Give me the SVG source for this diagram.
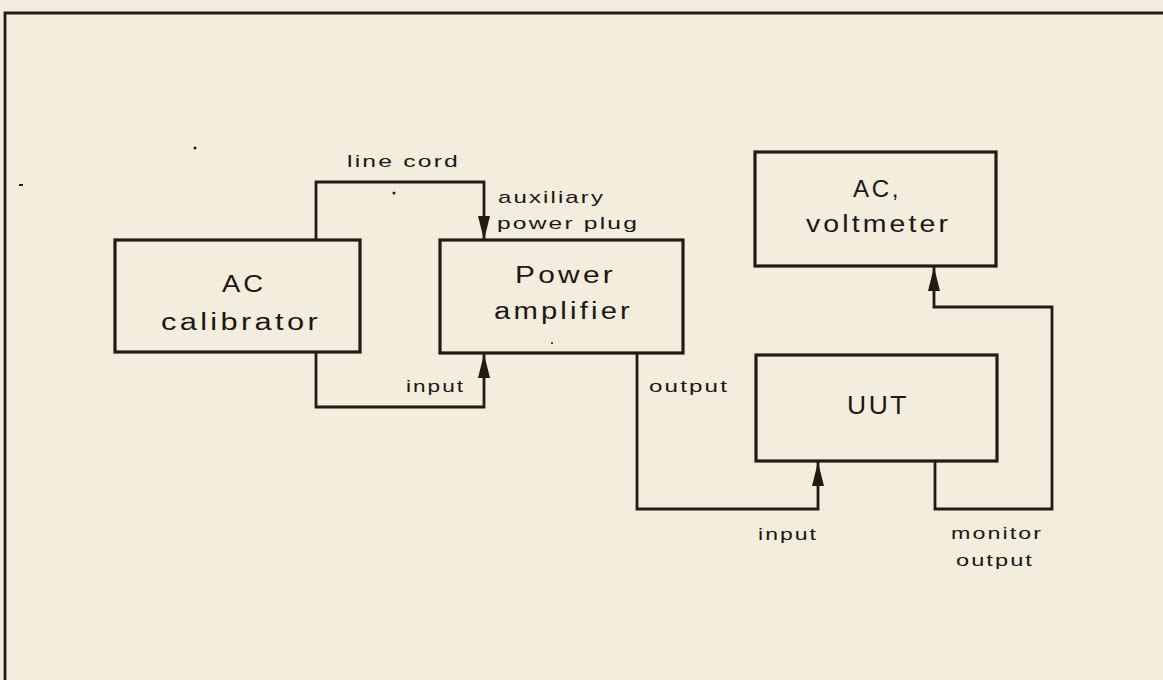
<svg xmlns="http://www.w3.org/2000/svg" width="1163" height="680" viewBox="0 0 1163 680">
<defs>
<marker id="arr" viewBox="0 0 24 12" refX="24" refY="6" markerWidth="24" markerHeight="12" markerUnits="userSpaceOnUse" orient="auto">
<path d="M0,0 L24,6 L0,12 z" fill="#231a15"/>
</marker>
<style>
.box{fill:none;stroke:#231a15;stroke-width:3.2}
.wire{fill:none;stroke:#231a15;stroke-width:2.8;stroke-linejoin:miter}
.big{font-family:"Liberation Sans",Arial,sans-serif;font-size:23px;letter-spacing:2.5px;fill:#1e1612}
.lbl{font-family:"Liberation Sans",Arial,sans-serif;font-size:17px;letter-spacing:1.5px;fill:#1e1612}
</style>
</defs>
<rect x="0" y="0" width="1163" height="680" fill="#f2eddc"/>
<g id="frame">
<path d="M1163,13 L5,13 L5,680" fill="none" stroke="#231a15" stroke-width="2.8"/>
</g>
<g id="ac-calibrator">
<rect class="box" x="115" y="240" width="245" height="112"/>
<text class="big" x="222" y="292" textLength="44" lengthAdjust="spacingAndGlyphs">AC</text>
<text class="big" x="161" y="330" textLength="160" lengthAdjust="spacingAndGlyphs">calibrator</text>
</g>
<g id="power-amplifier">
<rect class="box" x="440" y="240" width="243" height="113"/>
<text class="big" x="515" y="283" textLength="101" lengthAdjust="spacingAndGlyphs">Power</text>
<text class="big" x="494" y="319" textLength="139" lengthAdjust="spacingAndGlyphs">amplifier</text>
</g>
<g id="ac-voltmeter">
<rect class="box" x="755" y="152" width="241" height="114"/>
<text class="big" x="853" y="197" textLength="48" lengthAdjust="spacingAndGlyphs">AC,</text>
<text class="big" x="806" y="232" textLength="145" lengthAdjust="spacingAndGlyphs">voltmeter</text>
</g>
<g id="uut">
<rect class="box" x="756" y="355" width="241" height="106"/>
<text class="big" x="847" y="414" style="font-size:26px" textLength="62" lengthAdjust="spacingAndGlyphs">UUT</text>
</g>
<g id="connectors">
<path class="wire" d="M316,240 L316,182 L484,182 L484,240" marker-end="url(#arr)"/>
<path class="wire" d="M316,352 L316,407 L484,407 L484,354" marker-end="url(#arr)"/>
<path class="wire" d="M637,353 L637,509 L818,509 L818,462" marker-end="url(#arr)"/>
<path class="wire" d="M935,461 L935,509 L1052,509 L1052,307 L934,307 L934,267" marker-end="url(#arr)"/>
</g>
<g id="labels">
<text class="lbl" x="347" y="167" textLength="113" lengthAdjust="spacingAndGlyphs">line cord</text>
<text class="lbl" x="498" y="203" textLength="107" lengthAdjust="spacingAndGlyphs">auxiliary</text>
<text class="lbl" x="497" y="229" textLength="142" lengthAdjust="spacingAndGlyphs">power plug</text>
<text class="lbl" x="406" y="392" textLength="59" lengthAdjust="spacingAndGlyphs">input</text>
<text class="lbl" x="649" y="392" textLength="80" lengthAdjust="spacingAndGlyphs">output</text>
<text class="lbl" x="758" y="540" textLength="60" lengthAdjust="spacingAndGlyphs">input</text>
<text class="lbl" x="951" y="539" textLength="92" lengthAdjust="spacingAndGlyphs">monitor</text>
<text class="lbl" x="956" y="566" textLength="78" lengthAdjust="spacingAndGlyphs">output</text>
</g>
<g id="specks" fill="#231a15">
<circle cx="195" cy="148" r="1.5"/>
<circle cx="394" cy="193" r="1.5"/>
<circle cx="552" cy="343" r="1"/>
<rect x="19" y="184" width="4" height="2"/>
</g>
</svg>
